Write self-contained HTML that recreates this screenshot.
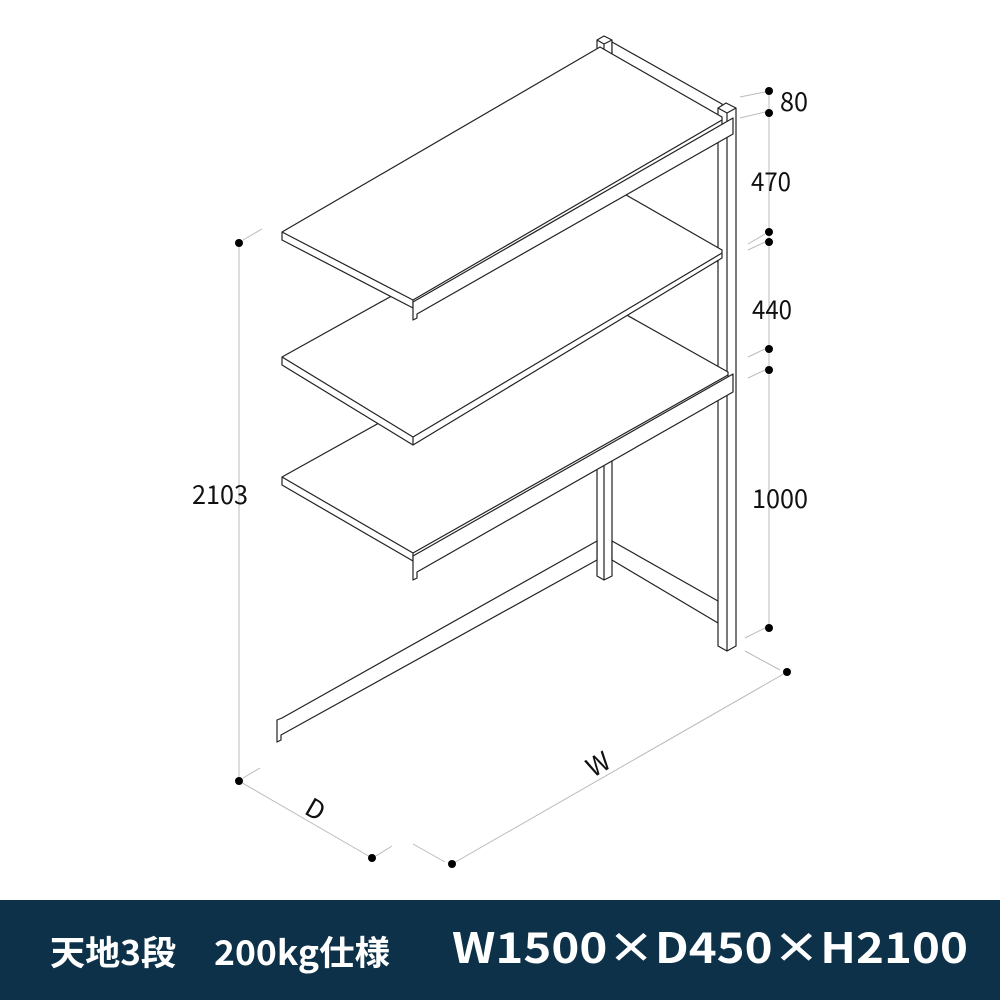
<!DOCTYPE html>
<html><head><meta charset="utf-8"><style>
html,body{margin:0;padding:0;background:#fff;width:1000px;height:1000px;overflow:hidden}
</style></head><body>
<svg width="1000" height="1000" viewBox="0 0 1000 1000" xmlns="http://www.w3.org/2000/svg" style="position:absolute;left:0;top:0">
<g fill="#fff" stroke="#222" stroke-width="1.2" stroke-linejoin="round">
  <path d="M597,40 L604,36 L612,40 L612,576 L604,580 L597,576 Z"/>
  <path d="M597,40 L604,44 L612,40 M604,44 L604,580" fill="none"/>
  <path d="M612,42 L722,104 L722,118 L612,56 Z"/>
  <path d="M612,190 L718,248 L718,262 L612,204 Z"/>
  <path d="M612,312 L718,368 L718,382 L612,326 Z"/>
  <path d="M612,541 L718,601 L718,623 L612,560 Z"/>
  <path d="M597,541 L282,718 L277,720 L277,742 L281,740 L281,735 L597,560 Z"/>
  <path d="M718,108 L726,103 L736,108 L736,646 L727,651 L718,646 Z"/>
  <path d="M718,108 L727,113 L736,108 M727,113 L727,651" fill="none"/>
  <path d="M282,477 L600,300 L728,372 L728,380 L413,561 L282,485 Z"/>
  <path d="M282,477 L413,553 L728,375 M413,553 L413,561" fill="none"/>
  <path d="M413,556 L733,374 L733,392 L417,572 L417,578 L413,580 Z"/>
  <path d="M282,357 L600,180 L722,250 L722,258 L413,445 L282,365 Z"/>
  <path d="M282,357 L413,437 L722,253 M413,437 L413,445" fill="none"/>
  <path d="M282,232 L600,47 L722,117 L722,125 L413,308 L282,240 Z"/>
  <path d="M282,232 L413,300 L722,120 M413,300 L413,308" fill="none"/>
  <path d="M413,302 L733,118 L733,134 L417,314 L417,318 L413,320 Z"/>
</g>
<g stroke="#bbb" stroke-width="1" fill="none">
  <path d="M239,243 L239,781"/>
  <path d="M243,240 L262,229"/>
  <path d="M239,781 L372,858"/>
  <path d="M243,778 L260,768"/>
  <path d="M376,856 L392,846"/>
  <path d="M452,864 L787,672"/>
  <path d="M413,844 L445,862"/>
  <path d="M745,651 L780,670"/>
  <path d="M769,91 L769,628"/>
  <path d="M740,97 L765,92"/><path d="M740,118 L765,112"/>
  <path d="M748,244 L765,234"/><path d="M748,250 L765,242"/>
  <path d="M748,357 L765,349"/><path d="M748,378 L765,370"/>
  <path d="M745,638 L765,628"/>
</g>
<g fill="#000">
  <circle cx="239" cy="243" r="4"/><circle cx="239" cy="781" r="4"/>
  <circle cx="372" cy="858" r="4"/><circle cx="452" cy="864" r="4"/>
  <circle cx="787" cy="672" r="4"/>
  <circle cx="769" cy="91" r="4"/><circle cx="769" cy="113" r="4"/>
  <circle cx="769" cy="232" r="4"/><circle cx="769" cy="242" r="4"/>
  <circle cx="769" cy="349" r="4"/><circle cx="769" cy="370" r="4"/>
  <circle cx="769" cy="628" r="4"/>
</g>
<g font-family="'Noto Sans CJK JP', 'Liberation Sans', sans-serif" font-size="26" fill="#111">
  <text x="192" y="504" textLength="56" lengthAdjust="spacingAndGlyphs">2103</text>
  <text x="780" y="111" textLength="28" lengthAdjust="spacingAndGlyphs">80</text>
  <text x="751" y="191" textLength="40" lengthAdjust="spacingAndGlyphs">470</text>
  <text x="752" y="319" textLength="40" lengthAdjust="spacingAndGlyphs">440</text>
  <text x="752" y="508" textLength="56" lengthAdjust="spacingAndGlyphs">1000</text>
  <text x="0" y="0" transform="translate(303,813) rotate(30)">D</text>
  <text x="0" y="0" transform="translate(593,778) rotate(-30)">W</text>
</g>
<rect x="0" y="900" width="1000" height="100" fill="#0c3148"/>
<g font-family="'Noto Sans CJK JP', 'Liberation Sans', sans-serif" font-weight="bold" fill="#fff">
  <text x="50" y="965" font-size="34" textLength="126" lengthAdjust="spacingAndGlyphs">天地3段</text>
  <text x="214" y="965" font-size="34" textLength="176" lengthAdjust="spacingAndGlyphs">200kg仕様</text>
  <text x="452" y="963" font-size="42" textLength="516" lengthAdjust="spacingAndGlyphs">W1500×D450×H2100</text>
</g>
</svg>
</body></html>
